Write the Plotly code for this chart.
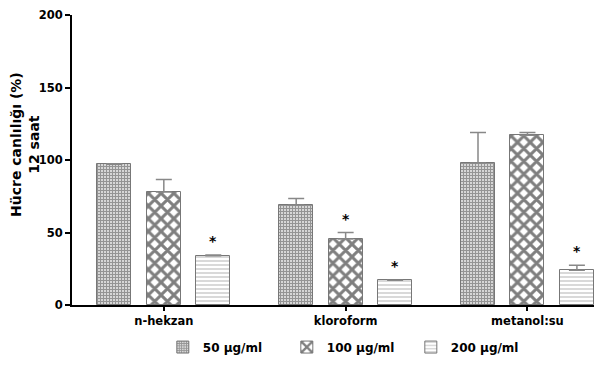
import plotly.graph_objects as go

categories = ["n-hekzan", "kloroform", "metanol:su"]
series_names = ["50 µg/ml", "100 µg/ml", "200 µg/ml"]
values_50 = [97, 69, 98]
values_100 = [78, 45.5, 117]
values_200 = [34, 17, 24]
err_50 = [0.5, 4.5, 21]
err_100 = [8.5, 4.5, 2]
err_200 = [0.5, 0, 3.5]
stars_100 = [False, True, False]
stars_200 = [True, True, True]
y_ticks = [0, 50, 100, 150, 200]
y_title = "Hücre canlılığı (%)<br>12 saat"

FONT = "DejaVu Sans, Arial, sans-serif"
width = 0.187
spacing = 0.272

styles = [
    dict(shape="+", size=3, solidity=0.7, fgcolor="#2a2a2a", bgcolor="#ffffff"),
    dict(shape="x", size=9, solidity=0.55, fgcolor="#000000", bgcolor="#ffffff"),
    dict(shape="-", size=4, solidity=0.3, fgcolor="#808080", bgcolor="#ffffff"),
]

fig = go.Figure()
all_vals = [values_50, values_100, values_200]
all_errs = [err_50, err_100, err_200]
for i, (name, vals, errs) in enumerate(zip(series_names, all_vals, all_errs)):
    fig.add_trace(go.Bar(
        x=categories, y=vals, name="<b>%s</b>" % name,
        width=width, offset=-width / 2 + (i - 1) * spacing,
        marker=dict(color="#ffffff", pattern=styles[i],
                    line=dict(color="#777777", width=1)),
        error_y=dict(type="data", array=errs, arrayminus=[0] * 3, symmetric=False,
                     color="#888888", thickness=1.5, width=8),
    ))

annotations = []
for j, c in enumerate(categories):
    if stars_100[j]:
        annotations.append(dict(x=j, y=values_100[j] + err_100[j],
                                xref="x", yref="y", text="<b>*</b>", showarrow=False,
                                yshift=14, font=dict(size=14, family=FONT, color="#000")))
    if stars_200[j]:
        annotations.append(dict(x=j + spacing, y=values_200[j] + err_200[j],
                                xref="x", yref="y", text="<b>*</b>", showarrow=False,
                                yshift=14, font=dict(size=14, family=FONT, color="#000")))
annotations.append(dict(x=-0.09, y=0.552, xref="paper", yref="paper", text="<b>%s</b>" % y_title,
                        textangle=-90, showarrow=False, xanchor="center", yanchor="middle",
                        font=dict(size=14, family=FONT, color="#000")))

fig.update_layout(
    width=599, height=367,
    margin=dict(l=64, r=13, t=7, b=70, autoexpand=False),
    plot_bgcolor="#ffffff", paper_bgcolor="#ffffff",
    font=dict(family=FONT, size=11.5, color="#000000"),
    showlegend=True,
    legend=dict(orientation="h", x=0.174, xanchor="left", y=-0.145, yanchor="middle",
                font=dict(size=12, family=FONT), itemwidth=30, tracegroupgap=0,
                entrywidth=79, entrywidthmode="pixels"),
    annotations=annotations,
    bargap=0,
)
fig.update_xaxes(
    range=[-0.505, 2.366], showline=True, linecolor="#000", linewidth=2,
    ticks="outside", ticklen=4, tickwidth=1.5, tickcolor="#000",
    tickvals=[0, 1, 2], ticktext=["<b>%s</b>" % c for c in categories],
    tickfont=dict(size=11.5, family=FONT), showgrid=False, zeroline=False,
)
fig.update_yaxes(
    range=[0, 200], showline=True, linecolor="#000", linewidth=2,
    ticks="outside", ticklen=5, tickwidth=1.5, tickcolor="#000",
    tickvals=y_ticks, ticktext=["<b>%d</b>" % t for t in y_ticks],
    tickfont=dict(size=11.5, family=FONT), showgrid=False, zeroline=False,
)
fig.write_html("out.html")
